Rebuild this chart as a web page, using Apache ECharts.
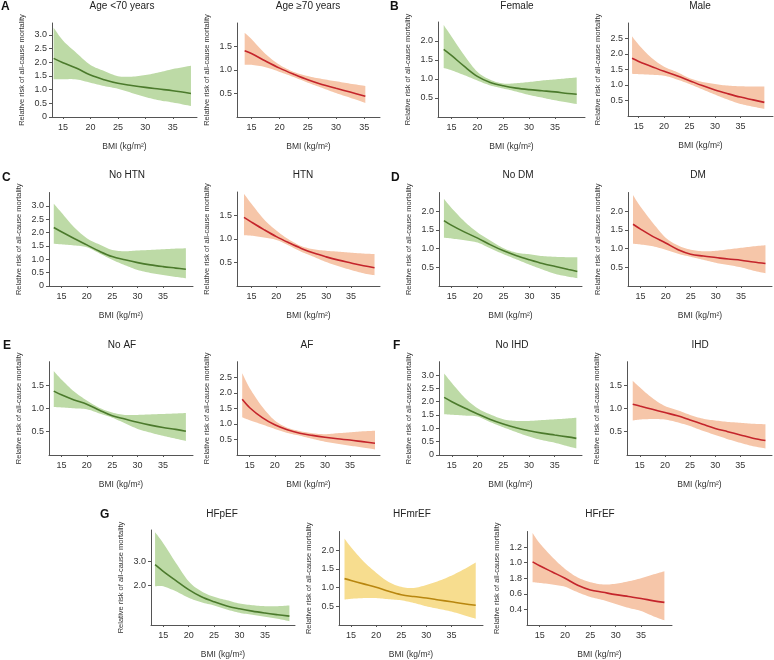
<!DOCTYPE html>
<html>
<head>
<meta charset="utf-8">
<script src="https://cdn.jsdelivr.net/npm/echarts@6/dist/echarts.min.js"></script>
<style>
html, body { margin: 0; padding: 0; background: #fff; }
#main { width: 774px; height: 660px; }
</style>
</head>
<body>
<div id="main"></div>
<script>
// BMI ticks shared by every panel
var xTicks = [15, 20, 25, 30, 35];

// A: age
var bmiAgeLt70 = [13.3, 15, 17.5, 20, 22.5, 25, 27.5, 30, 32.5, 35, 38.3];
var rrAgeLt70 = [2.14, 1.98, 1.78, 1.53, 1.36, 1.23, 1.15, 1.08, 1.02, 0.96, 0.86];
var hiAgeLt70 = [3.26, 2.79, 2.33, 1.90, 1.68, 1.49, 1.47, 1.53, 1.63, 1.75, 1.87];
var loAgeLt70 = [1.38, 1.38, 1.37, 1.25, 1.13, 1.03, 0.88, 0.73, 0.61, 0.53, 0.40];

var bmiAgeGe70 = [13.8, 15, 17.5, 20, 22.5, 25, 27.5, 30, 32.5, 35.2];
var rrAgeGe70 = [1.41, 1.35, 1.19, 1.04, 0.91, 0.79, 0.69, 0.61, 0.53, 0.44];
var hiAgeGe70 = [1.79, 1.66, 1.34, 1.11, 0.96, 0.87, 0.81, 0.76, 0.71, 0.66];
var loAgeGe70 = [1.11, 1.11, 1.06, 0.96, 0.85, 0.73, 0.62, 0.51, 0.41, 0.30];

// B: sex
var bmiFemale = [13.5, 15, 17.5, 20, 22.5, 25, 27.5, 30, 32.5, 35, 37.5, 39.2];
var rrFemale = [1.78, 1.62, 1.33, 1.07, 0.91, 0.82, 0.76, 0.72, 0.69, 0.66, 0.62, 0.60];
var hiFemale = [2.42, 2.12, 1.62, 1.19, 0.98, 0.88, 0.89, 0.92, 0.96, 0.99, 1.02, 1.04];
var loFemale = [1.29, 1.23, 1.10, 0.96, 0.83, 0.75, 0.67, 0.58, 0.51, 0.44, 0.38, 0.34];

var bmiMale = [13.7, 15, 17.5, 20, 22.5, 25, 27.5, 30, 32.5, 35, 37.5, 39.7];
var rrMale = [1.86, 1.76, 1.60, 1.44, 1.30, 1.14, 0.98, 0.84, 0.72, 0.61, 0.52, 0.44];
var hiMale = [2.57, 2.30, 1.88, 1.59, 1.42, 1.22, 1.10, 1.03, 0.98, 0.96, 0.95, 0.95];
var loMale = [1.36, 1.35, 1.33, 1.30, 1.18, 1.03, 0.86, 0.69, 0.53, 0.39, 0.30, 0.23];

// C: hypertension
var bmiNoHtn = [13.5, 15, 17.5, 20, 22.5, 25, 27.5, 30, 32.5, 35, 37.5, 39.5];
var rrNoHtn = [2.19, 2.03, 1.78, 1.54, 1.30, 1.10, 0.98, 0.875, 0.79, 0.725, 0.67, 0.625];
var hiNoHtn = [3.08, 2.75, 2.20, 1.79, 1.55, 1.35, 1.30, 1.33, 1.35, 1.375, 1.40, 1.41];
var loNoHtn = [1.58, 1.56, 1.52, 1.45, 1.22, 0.98, 0.78, 0.60, 0.49, 0.41, 0.34, 0.29];

var bmiHtn = [13.5, 15, 17.5, 20, 22.5, 25, 27.5, 30, 32.5, 35, 37.5, 39.7];
var rrHtn = [1.46, 1.36, 1.20, 1.05, 0.92, 0.80, 0.70, 0.62, 0.55, 0.49, 0.43, 0.39];
var hiHtn = [1.96, 1.75, 1.42, 1.18, 0.99, 0.85, 0.78, 0.75, 0.73, 0.71, 0.69, 0.68];
var loHtn = [1.08, 1.07, 1.03, 0.98, 0.86, 0.73, 0.62, 0.51, 0.42, 0.34, 0.27, 0.23];

// D: diabetes
var bmiNoDm = [13.5, 15, 17.5, 20, 22.5, 25, 27.5, 30, 32.5, 35, 37.5, 39.2];
var rrNoDm = [1.75, 1.62, 1.44, 1.28, 1.10, 0.94, 0.81, 0.70, 0.60, 0.52, 0.44, 0.39];
var hiNoDm = [2.33, 2.08, 1.72, 1.43, 1.21, 1.01, 0.89, 0.85, 0.80, 0.78, 0.77, 0.77];
var loNoDm = [1.29, 1.27, 1.22, 1.16, 1.00, 0.85, 0.71, 0.57, 0.44, 0.32, 0.25, 0.21];

var bmiDm = [13.5, 15, 17.5, 20, 22.5, 25, 27.5, 30, 32.5, 35, 37.5, 39.9];
var rrDm = [1.65, 1.52, 1.32, 1.15, 0.97, 0.85, 0.80, 0.76, 0.72, 0.69, 0.64, 0.60];
var hiDm = [2.43, 2.12, 1.68, 1.29, 1.08, 0.97, 0.93, 0.94, 0.98, 1.02, 1.06, 1.09];
var loDm = [1.13, 1.11, 1.06, 0.97, 0.86, 0.78, 0.70, 0.62, 0.56, 0.50, 0.41, 0.34];

// E: atrial fibrillation
var bmiNoAf = [13.5, 15, 17.5, 20, 22.5, 25, 27.5, 30, 32.5, 35, 37.5, 39.5];
var rrNoAf = [1.37, 1.29, 1.18, 1.09, 0.96, 0.84, 0.77, 0.70, 0.64, 0.59, 0.55, 0.51];
var hiNoAf = [1.80, 1.62, 1.36, 1.17, 1.01, 0.91, 0.86, 0.86, 0.87, 0.88, 0.89, 0.90];
var loNoAf = [1.03, 1.02, 1.00, 0.98, 0.89, 0.80, 0.68, 0.56, 0.48, 0.41, 0.35, 0.30];

var bmiAf = [13.5, 15, 17.5, 20, 22.5, 25, 27.5, 30, 32.5, 35, 37.5, 40];
var rrAf = [1.79, 1.52, 1.20, 0.97, 0.81, 0.70, 0.63, 0.57, 0.52, 0.48, 0.43, 0.38];
var hiAf = [2.63, 2.15, 1.55, 1.11, 0.88, 0.77, 0.70, 0.67, 0.70, 0.73, 0.76, 0.78];
var loAf = [1.21, 1.12, 0.98, 0.84, 0.71, 0.62, 0.52, 0.43, 0.36, 0.30, 0.24, 0.18];

// F: ischaemic heart disease
var bmiNoIhd = [13.5, 15, 17.5, 20, 22.5, 25, 27.5, 30, 32.5, 35, 37.5, 39.2];
var rrNoIhd = [2.16, 2.00, 1.76, 1.54, 1.33, 1.16, 1.02, 0.91, 0.82, 0.75, 0.68, 0.625];
var hiNoIhd = [3.06, 2.70, 2.15, 1.75, 1.52, 1.34, 1.28, 1.28, 1.31, 1.34, 1.37, 1.40];
var loNoIhd = [1.53, 1.51, 1.48, 1.44, 1.23, 1.04, 0.86, 0.69, 0.56, 0.46, 0.33, 0.25];

var bmiIhd = [13.6, 15, 17.5, 20, 22.5, 25, 27.5, 30, 32.5, 35, 37.5, 40];
var rrIhd = [1.09, 1.05, 0.98, 0.91, 0.84, 0.75, 0.66, 0.57, 0.50, 0.43, 0.36, 0.31];
var hiIhd = [1.59, 1.45, 1.22, 1.05, 0.96, 0.86, 0.78, 0.74, 0.71, 0.69, 0.67, 0.66];
var loIhd = [0.74, 0.76, 0.77, 0.76, 0.70, 0.62, 0.52, 0.43, 0.34, 0.26, 0.19, 0.14];

// G: heart failure type
var bmiHfpef = [13.4, 15, 17.5, 20, 22.5, 25, 27.5, 30, 32.5, 35, 37.5, 39.8];
var rrHfpef = [2.875, 2.60, 2.21, 1.83, 1.53, 1.32, 1.15, 1.03, 0.93, 0.85, 0.78, 0.72];
var hiHfpef = [4.24, 3.78, 2.95, 2.18, 1.76, 1.53, 1.39, 1.25, 1.18, 1.14, 1.14, 1.17];
var loHfpef = [1.97, 1.97, 1.76, 1.49, 1.30, 1.17, 1.00, 0.86, 0.78, 0.70, 0.61, 0.51];

var bmiHfmref = [13.7, 15, 17.5, 20, 22.5, 25, 27.5, 30, 32.5, 35, 37.5, 39.85];
var rrHfmref = [1.24, 1.19, 1.10, 1.01, 0.90, 0.81, 0.76, 0.72, 0.67, 0.62, 0.57, 0.53];
var hiHfmref = [2.31, 2.08, 1.70, 1.40, 1.15, 1.02, 0.99, 1.07, 1.18, 1.32, 1.49, 1.67];
var loHfmref = [0.68, 0.70, 0.72, 0.72, 0.69, 0.66, 0.59, 0.50, 0.43, 0.36, 0.26, 0.17];

var bmiHfref = [13.6, 15, 17.5, 20, 22.5, 25, 27.5, 30, 32.5, 35, 37.5, 39.6];
var rrHfref = [1.01, 0.96, 0.88, 0.80, 0.71, 0.65, 0.62, 0.59, 0.565, 0.54, 0.51, 0.49];
var hiHfref = [1.38, 1.25, 1.07, 0.92, 0.81, 0.75, 0.72, 0.73, 0.76, 0.80, 0.85, 0.89];
var loHfref = [0.75, 0.74, 0.72, 0.69, 0.62, 0.56, 0.52, 0.47, 0.42, 0.38, 0.31, 0.26];

// y tick sets
var yTicks30 = [0, 0.5, 1.0, 1.5, 2.0, 2.5, 3.0];
var yTicks15 = [0.5, 1.0, 1.5];
var yTicks20 = [0.5, 1.0, 1.5, 2.0];
var yTicks25 = [0.5, 1.0, 1.5, 2.0, 2.5];
var yTicksHfpef = [2.0, 3.0];
var yTicksHfref = [0.4, 0.6, 0.8, 1.0, 1.2];
var yLabelsHfref = ['0.4', '0.6', '1.8', '1.0', '1.2'];

var themes = {
	green: { fill: '#bddaa6', line: '#4b7a2c' },
	red: { fill: '#f6c6a9', line: '#c4242b' },
	gold: { fill: '#f7dd8f', line: '#b8860f' }
};

var panels = [
	{ name: 'Age <70 years', x: bmiAgeLt70, rr: rrAgeLt70, hi: hiAgeLt70, lo: loAgeLt70, ticks: yTicks30, theme: 'green' },
	{ name: 'Age \u226570 years', x: bmiAgeGe70, rr: rrAgeGe70, hi: hiAgeGe70, lo: loAgeGe70, ticks: yTicks15, theme: 'red' },
	{ name: 'Female', x: bmiFemale, rr: rrFemale, hi: hiFemale, lo: loFemale, ticks: yTicks20, theme: 'green' },
	{ name: 'Male', x: bmiMale, rr: rrMale, hi: hiMale, lo: loMale, ticks: yTicks25, theme: 'red' },
	{ name: 'No HTN', x: bmiNoHtn, rr: rrNoHtn, hi: hiNoHtn, lo: loNoHtn, ticks: yTicks30, theme: 'green' },
	{ name: 'HTN', x: bmiHtn, rr: rrHtn, hi: hiHtn, lo: loHtn, ticks: yTicks15, theme: 'red' },
	{ name: 'No DM', x: bmiNoDm, rr: rrNoDm, hi: hiNoDm, lo: loNoDm, ticks: yTicks20, theme: 'green' },
	{ name: 'DM', x: bmiDm, rr: rrDm, hi: hiDm, lo: loDm, ticks: yTicks20, theme: 'red' },
	{ name: 'No AF', x: bmiNoAf, rr: rrNoAf, hi: hiNoAf, lo: loNoAf, ticks: yTicks15, theme: 'green' },
	{ name: 'AF', x: bmiAf, rr: rrAf, hi: hiAf, lo: loAf, ticks: yTicks25, theme: 'red' },
	{ name: 'No IHD', x: bmiNoIhd, rr: rrNoIhd, hi: hiNoIhd, lo: loNoIhd, ticks: yTicks30, theme: 'green' },
	{ name: 'IHD', x: bmiIhd, rr: rrIhd, hi: hiIhd, lo: loIhd, ticks: yTicks15, theme: 'red' },
	{ name: 'HFpEF', x: bmiHfpef, rr: rrHfpef, hi: hiHfpef, lo: loHfpef, ticks: yTicksHfpef, theme: 'green' },
	{ name: 'HFmrEF', x: bmiHfmref, rr: rrHfmref, hi: hiHfmref, lo: loHfmref, ticks: yTicks20, theme: 'gold' },
	{ name: 'HFrEF', x: bmiHfref, rr: rrHfref, hi: hiHfref, lo: loHfref, ticks: yTicksHfref, labels: yLabelsHfref, theme: 'red' }
];

// plot boxes: left, top, right, bottom, x range, y range, title centre x, title top
var layout = [
	[52, 23, 197, 117, 13, 39.4, 0, 3.43, 122, 1],
	[237, 23, 380, 117, 12.44, 37.8, 0, 2, 308, 1],
	[438, 22, 585, 117, 12.4, 40.8, 0, 2.5, 517, 1],
	[628, 23, 773, 116, 12.9, 41.4, 0, 3, 700, 1],
	[49, 192.5, 193, 286, 12.56, 40.9, 0, 3.5, 127, 170],
	[237, 192, 380, 286, 12.1, 40.8, 0, 2, 303, 170],
	[439, 192.5, 582, 286, 12.55, 40.1, 0, 2.5, 518, 170],
	[628, 192.5, 772, 286, 12.5, 41.2, 0, 2.5, 698, 170],
	[49, 361.7, 193, 455, 12.56, 40.9, 0, 2, 122, 340],
	[237, 361.7, 380, 455, 12.46, 41, 0, 3, 307, 340],
	[439, 361.7, 582, 455, 12.5, 40.3, 0, 3.5, 512, 340],
	[627, 361.7, 772, 455, 12.46, 41.3, 0, 2, 700, 340],
	[151, 530, 295, 625.5, 12.6, 40.9, 0.35, 4.33, 222, 509],
	[339, 531.5, 483, 625.5, 12.6, 41.3, 0, 2.5, 412, 509],
	[527, 531.5, 672, 625, 12.5, 41.1, 0.2, 1.4, 600, 509]
];

var letters = [['A', 1, 1], ['B', 390, 1], ['C', 2, 172], ['D', 391, 172], ['E', 3, 340], ['F', 393, 340], ['G', 100, 509]];

var font = '"Liberation Sans", Arial, sans-serif';

function pairs(xs, ys) {
	return xs.map(function(x, i) { return [x, ys[i]]; });
}

// sample a Catmull-Rom curve through pixel points
function spline(pts) {
	var out = [pts[0]];
	var n = pts.length;
	for (var i = 0; i < n - 1; i++) {
		var p0 = pts[Math.max(i - 1, 0)], p1 = pts[i], p2 = pts[i + 1], p3 = pts[Math.min(i + 2, n - 1)];
		for (var s = 1; s <= 8; s++) {
			var t = s / 8, t2 = t * t, t3 = t2 * t;
			out.push([0, 1].map(function(k) {
				return 0.5 * (2 * p1[k] + (-p0[k] + p2[k]) * t +
					(2 * p0[k] - 5 * p1[k] + 4 * p2[k] - p3[k]) * t2 +
					(-p0[k] + 3 * p1[k] - 3 * p2[k] + p3[k]) * t3);
			}));
		}
	}
	return out;
}

var grids = [], xAxes = [], yAxes = [], titles = [], series = [];

panels.forEach(function(p, i) {
	var L = layout[i];
	var th = themes[p.theme];
	grids.push({ left: L[0], top: L[1], width: L[2] - L[0], height: L[3] - L[1] });
	titles.push({
		text: p.name, left: L[8], top: L[9], textAlign: 'center', padding: 0,
		textStyle: { fontSize: 10, fontWeight: 'normal', color: '#222', fontFamily: font }
	});
	xAxes.push({
		type: 'value', gridIndex: i, min: L[4], max: L[5], z: 5,
		name: 'BMI (kg/m\u00b2)', nameLocation: 'middle', nameGap: 25,
		nameTextStyle: { fontSize: 8.5, color: '#333', fontFamily: font },
		axisLine: { lineStyle: { color: '#555', width: 1 } },
		axisTick: { show: true, length: 2, customValues: xTicks, lineStyle: { color: '#555' } },
		axisLabel: { customValues: xTicks, fontSize: 9, color: '#333', margin: 6, fontFamily: font },
		splitLine: { show: false }
	});
	yAxes.push({
		type: 'value', gridIndex: i, min: L[6], max: L[7], z: 5,
		name: 'Relative risk of all-cause mortality', nameLocation: 'middle', nameGap: 26,
		nameTextStyle: { fontSize: 7.5, color: '#333', fontFamily: font },
		axisLine: { show: true, lineStyle: { color: '#555', width: 1 } },
		axisTick: { show: true, length: 3, customValues: p.ticks, lineStyle: { color: '#555' } },
		axisLabel: {
			customValues: p.ticks, fontSize: 9, color: '#333', margin: 5, fontFamily: font,
			formatter: function(v) {
				if (p.labels) return p.labels[p.ticks.indexOf(v)] || '';
				return v === 0 ? '0' : v.toFixed(1);
			}
		},
		splitLine: { show: false }
	});
	// confidence band: one polygon, upper bound forwards then lower bound backwards
	series.push({
		type: 'custom', xAxisIndex: i, yAxisIndex: i, silent: true, z: 1,
		data: [[p.x[0], p.lo[0]]],
		renderItem: function(params, api) {
			var top = spline(p.x.map(function(x, k) { return api.coord([x, p.hi[k]]); }));
			var bot = spline(p.x.map(function(x, k) { return api.coord([x, p.lo[k]]); }).reverse());
			return {
				type: 'polygon',
				shape: { points: top.concat(bot) },
				style: { fill: th.fill, stroke: null }
			};
		}
	});
	series.push({
		type: 'line', xAxisIndex: i, yAxisIndex: i, symbol: 'none', smooth: 0.35, silent: true, z: 3,
		data: pairs(p.x, p.rr), lineStyle: { color: th.line, width: 1.6 }
	});
});

letters.forEach(function(l) {
	titles.push({
		text: l[0], left: l[1], top: l[2], padding: 0,
		textStyle: { fontSize: 12, fontWeight: 'bold', color: '#111', fontFamily: font }
	});
});

var chart = echarts.init(document.getElementById('main'), null, { renderer: 'canvas' });
chart.setOption({
	backgroundColor: '#fff',
	animation: false,
	title: titles,
	grid: grids,
	xAxis: xAxes,
	yAxis: yAxes,
	series: series
});
</script>
</body>
</html>
